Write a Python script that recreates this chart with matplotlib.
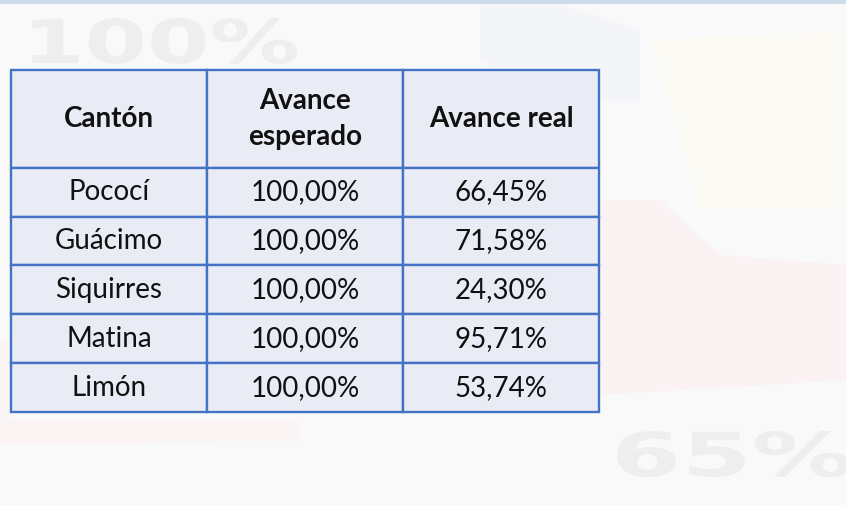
import matplotlib
matplotlib.use("Agg")
import matplotlib.pyplot as plt
from matplotlib.patches import Rectangle, Polygon, PathPatch
from matplotlib.textpath import TextPath
from matplotlib.font_manager import FontProperties
from matplotlib.transforms import Affine2D

cantones = ["Pococí", "Guácimo", "Siquirres", "Matina", "Limón"]
avance_esperado = ["100,00%", "100,00%", "100,00%", "100,00%", "100,00%"]
avance_real = ["66,45%", "71,58%", "24,30%", "95,71%", "53,74%"]
headers = ["Cantón", "Avance\nesperado", "Avance real"]
watermarks = ["100%", "65%"]

plt.rcParams['font.family'] = ['Lato', 'DejaVu Sans']

W, H = 846, 505
BG = "#f9f9f9"
fig = plt.figure(figsize=(W / 100, H / 100), dpi=100, facecolor=BG)
ax = fig.add_axes([0, 0, 1, 1])
ax.set_xlim(0, W)
ax.set_ylim(H, 0)
ax.axis("off")
ax.set_facecolor(BG)

# faint decorative background
ax.add_patch(Rectangle((0, 0), W, 4, color="#cddcec", zorder=0, lw=0))
ax.add_patch(Polygon([[480, 5], [560, 5], [640, 30], [640, 100], [540, 100], [480, 60]],
                     closed=True, color="#f3f5f9", zorder=0, lw=0))
ax.add_patch(Polygon([[650, 40], [846, 30], [846, 210], [700, 210]],
                     closed=True, color="#fbf9f4", zorder=0, lw=0))
ax.add_patch(Polygon([[600, 200], [660, 200], [720, 255], [846, 265],
                      [846, 380], [600, 395]],
                     closed=True, color="#fbf3f3", zorder=0, lw=0))
ax.add_patch(Polygon([[0, 340], [11, 340], [11, 420], [300, 420], [300, 440], [0, 445]],
                     closed=True, color="#fbf4f4", zorder=0, lw=0))

# stretched watermark numbers
fp = FontProperties(family="DejaVu Sans", weight="bold")
boxes = [(32, 18, 297, 64), (617, 431, 850, 477)]
for s, (x0, y0, x1, y1) in zip(watermarks, boxes):
    tp = TextPath((0, 0), s, size=100, prop=fp)
    ext = tp.get_extents()
    sx = (x1 - x0) / ext.width
    sy = (y1 - y0) / ext.height
    tr = Affine2D().translate(-ext.x0, -ext.y0).scale(sx, -sy).translate(x0, y1)
    ax.add_patch(PathPatch(tr.transform_path(tp), color="#eeeeee", lw=0, zorder=1))

# table
left, top, right, bottom = 11, 70, 599, 412
cell_text = [[c, e, r] for c, e, r in zip(cantones, avance_esperado, avance_real)]
tbl = ax.table(cellText=cell_text, colLabels=headers, cellLoc="center",
               bbox=[left / W, 1 - bottom / H, (right - left) / W, (bottom - top) / H],
               zorder=3)
tbl.auto_set_font_size(False)
for (r, c), cell in tbl.get_celld().items():
    cell.set_facecolor("#e9ebf5")
    cell.set_edgecolor("#4472c4")
    cell.set_linewidth(1.7)
    cell.set_height(2.0 if r == 0 else 1.0)
    t = cell.get_text()
    t.set_fontsize(20)
    t.set_color("#111111")
    if r == 0:
        t.set_fontweight("bold")
        t.set_linespacing(1.45)

fig.savefig("out.png", dpi=100, facecolor=fig.get_facecolor())
